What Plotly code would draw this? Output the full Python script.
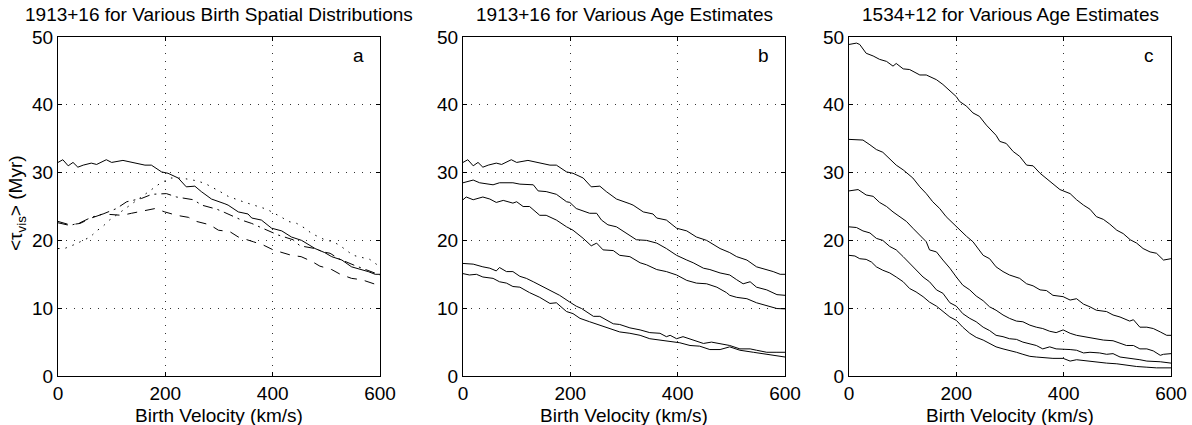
import plotly.graph_objects as go

# ---------------- data ----------------
# Panel a: 1913+16 for various birth spatial distributions
a_solid_x = [0, 9, 19, 28, 37, 47, 62, 72, 90, 100, 121, 143, 162, 174, 193, 205, 224, 239, 255, 267, 286, 311, 317, 336, 354, 361, 379, 398, 417, 435, 454, 479, 497, 510, 529, 547, 566, 578, 591, 600]
a_solid_y = [31.5, 31.9, 31.0, 31.5, 30.8, 31.1, 31.4, 31.2, 31.9, 31.5, 31.8, 31.4, 31.1, 31.1, 30.1, 29.9, 29.2, 27.9, 28.0, 27.2, 26.1, 25.4, 25.2, 24.2, 23.9, 23.3, 23.0, 21.8, 21.4, 20.5, 20.0, 18.8, 18.2, 17.6, 17.1, 16.1, 15.7, 15.4, 15.0, 15.0]

a_dot_x = [0, 12, 31, 60, 72, 84, 96, 134, 159, 190, 210, 230, 258, 274, 302, 317, 345, 358, 376, 389, 417, 429, 445, 460, 473, 497, 513, 526, 550, 566, 581, 593, 600]
a_dot_y = [18.8, 18.8, 19.4, 20.5, 21.4, 22.1, 23.0, 25.2, 26.7, 28.4, 29.2, 29.2, 28.8, 28.4, 27.2, 26.5, 25.7, 25.4, 24.9, 24.6, 23.4, 22.8, 22.5, 21.8, 21.0, 20.1, 19.8, 19.2, 17.8, 17.5, 17.2, 16.5, 16.2]

a_dash_x = [0, 22, 41, 56, 62, 84, 119, 137, 162, 181, 199, 221, 243, 258, 283, 299, 320, 336, 364, 383, 401, 435, 453, 473, 488, 510, 526, 547, 566, 588, 600]
a_dash_y = [22.8, 22.3, 22.5, 23.0, 23.3, 23.9, 23.7, 24.0, 24.4, 24.7, 24.2, 23.7, 23.4, 22.8, 22.3, 21.5, 21.3, 20.5, 19.8, 19.3, 18.6, 17.8, 17.6, 16.9, 16.2, 15.7, 15.0, 14.4, 14.2, 13.6, 13.3]

a_dashdot_x = [0, 22, 41, 62, 84, 109, 128, 156, 175, 202, 221, 252, 268, 296, 311, 342, 361, 389, 410, 438, 451, 479, 494, 507, 523, 553, 600]
a_dashdot_y = [22.6, 22.2, 22.6, 23.4, 23.9, 24.7, 25.7, 26.2, 26.8, 26.9, 26.4, 26.0, 25.2, 24.6, 24.1, 23.0, 22.5, 21.5, 20.8, 20.1, 19.2, 18.8, 18.3, 18.1, 17.3, 16.3, 14.9]

# Panel b: 1913+16 for various age estimates
b1_x = a_solid_x
b1_y = a_solid_y
b2_x = [0, 19, 31, 56, 68, 93, 106, 131, 140, 155, 174, 193, 199, 211, 236, 249, 258, 270, 286, 305, 323, 342, 361, 379, 398, 417, 429, 448, 460, 479, 497, 510, 522, 535, 547, 566, 585, 600]
b2_y = [28.5, 28.9, 28.5, 28.2, 28.5, 28.5, 28.3, 28.2, 27.3, 27.2, 26.8, 25.7, 25.6, 24.7, 24.0, 24.0, 23.0, 22.3, 22.0, 21.0, 20.1, 20.0, 19.6, 18.8, 17.8, 17.1, 16.7, 15.9, 15.7, 15.2, 14.9, 14.2, 13.6, 13.9, 13.1, 12.7, 12.0, 11.9]
b3_x = [0, 6, 19, 37, 50, 62, 75, 93, 100, 112, 124, 143, 155, 174, 193, 205, 224, 239, 249, 261, 280, 292, 311, 330, 342, 361, 379, 398, 417, 435, 454, 473, 491, 497, 510, 529, 547, 566, 585, 600]
b3_y = [26.0, 26.4, 26.0, 26.4, 26.1, 25.6, 25.9, 25.5, 25.7, 25.0, 25.0, 23.7, 23.7, 23.0, 22.0, 21.5, 20.3, 19.2, 19.6, 18.6, 18.5, 17.8, 17.6, 16.7, 16.4, 15.7, 15.4, 14.9, 14.1, 13.7, 13.6, 13.1, 12.3, 11.9, 11.6, 11.4, 10.8, 10.4, 9.95, 9.9]
b4_x = [0, 19, 37, 50, 62, 68, 81, 93, 106, 118, 131, 149, 168, 180, 199, 211, 221, 230, 243, 255, 267, 280, 292, 311, 330, 348, 367, 379, 386, 398, 410, 429, 448, 463, 479, 497, 516, 535, 547, 566, 585, 600]
b4_y = [16.6, 16.5, 16.1, 15.9, 15.5, 16.0, 15.4, 15.4, 14.7, 14.4, 13.9, 13.2, 12.4, 11.9, 10.9, 10.3, 9.95, 9.46, 8.8, 8.8, 8.3, 7.7, 7.6, 7.1, 6.8, 6.4, 6.3, 5.8, 6.0, 5.5, 5.8, 5.3, 4.8, 5.0, 4.8, 4.5, 4.0, 4.0, 3.8, 3.5, 3.5, 3.5]
b5_x = [0, 12, 25, 37, 56, 68, 81, 93, 106, 124, 143, 162, 174, 193, 205, 218, 236, 255, 274, 292, 311, 330, 348, 367, 386, 404, 423, 441, 460, 479, 497, 516, 541, 560, 578, 600]
b5_y = [15.1, 14.9, 15.0, 14.6, 14.4, 13.9, 13.7, 13.2, 13.1, 12.3, 11.6, 10.7, 10.8, 9.5, 9.2, 8.5, 8.0, 7.5, 7.0, 6.5, 6.3, 6.0, 5.5, 5.3, 5.0, 4.9, 4.5, 4.4, 3.9, 3.9, 4.3, 3.8, 3.5, 3.3, 3.05, 2.8]

# Panel c: 1534+12 for various age estimates
c1_x = [0, 14, 20, 32, 45, 57, 70, 82, 88, 101, 113, 132, 144, 163, 175, 188, 200, 206, 219, 231, 243, 256, 274, 281, 293, 306, 318, 331, 343, 356, 374, 393, 412, 424, 437, 449, 461, 474, 486, 499, 511, 524, 536, 548, 561, 573, 586, 600]
c1_y = [48.9, 49.1, 48.9, 47.6, 47.2, 46.7, 46.4, 45.7, 46.1, 45.3, 45.2, 44.4, 44.4, 43.7, 43.0, 42.0, 41.2, 40.5, 39.8, 38.8, 38.3, 37.0, 35.5, 34.6, 34.3, 33.1, 32.4, 31.1, 31.0, 29.9, 28.7, 27.5, 26.9, 26.0, 25.2, 24.6, 23.5, 23.1, 22.4, 21.5, 21.0, 20.1, 19.6, 18.8, 18.3, 18.1, 17.1, 17.3]
c2_x = [0, 26, 39, 51, 63, 76, 88, 101, 119, 132, 144, 156, 169, 181, 194, 206, 219, 231, 250, 262, 274, 287, 299, 318, 331, 343, 356, 368, 380, 399, 412, 424, 437, 449, 461, 480, 492, 505, 523, 530, 542, 555, 567, 580, 592, 600]
c2_y = [34.9, 34.8, 34.1, 33.4, 33.0, 32.0, 31.1, 30.4, 29.2, 27.9, 26.9, 25.7, 24.7, 23.5, 22.5, 21.5, 20.6, 19.8, 17.8, 17.3, 16.1, 15.4, 14.9, 14.4, 13.6, 13.3, 12.7, 12.6, 11.9, 11.7, 11.2, 11.4, 10.6, 10.2, 9.7, 9.5, 9.0, 8.7, 8.1, 8.3, 7.2, 7.2, 7.0, 6.5, 6.0, 6.0]
c3_x = [0, 17, 32, 45, 57, 70, 82, 94, 107, 119, 132, 144, 150, 163, 175, 188, 200, 212, 225, 237, 250, 262, 274, 287, 299, 312, 324, 337, 349, 361, 374, 386, 399, 412, 424, 437, 449, 461, 474, 492, 505, 517, 530, 542, 555, 567, 580, 586, 600]
c3_y = [27.3, 27.5, 26.7, 26.5, 25.6, 25.0, 24.2, 23.5, 22.8, 21.8, 20.8, 19.8, 18.6, 18.3, 17.1, 15.9, 14.6, 13.4, 12.7, 11.8, 11.1, 10.2, 9.7, 9.0, 8.5, 8.1, 8.0, 7.5, 7.2, 7.0, 6.6, 6.4, 6.8, 6.3, 6.0, 5.8, 5.7, 5.5, 5.3, 5.2, 4.8, 4.5, 4.5, 4.0, 4.0, 3.7, 3.05, 3.2, 3.3]
c4_x = [0, 14, 26, 39, 51, 63, 76, 88, 101, 113, 125, 138, 150, 163, 175, 188, 200, 212, 225, 237, 250, 262, 274, 287, 299, 312, 324, 337, 349, 361, 374, 386, 399, 412, 424, 437, 449, 467, 480, 492, 505, 517, 530, 542, 555, 567, 580, 600]
c4_y = [22.0, 21.9, 21.4, 21.1, 20.3, 20.0, 19.1, 18.6, 17.6, 16.6, 15.6, 14.6, 13.9, 12.7, 12.2, 10.8, 10.3, 9.2, 8.5, 8.0, 7.2, 6.7, 6.0, 5.8, 5.5, 5.4, 5.0, 4.7, 4.5, 4.0, 4.3, 4.0, 4.0, 3.9, 3.8, 3.4, 3.5, 3.4, 3.2, 3.3, 2.8, 2.7, 2.6, 2.4, 2.2, 2.2, 2.1, 1.9]
c5_x = [0, 11, 20, 32, 42, 51, 63, 76, 88, 101, 113, 125, 138, 150, 163, 175, 188, 200, 212, 225, 237, 250, 262, 274, 287, 299, 312, 324, 337, 349, 361, 380, 399, 412, 424, 443, 461, 480, 499, 517, 536, 555, 573, 600]
c5_y = [17.8, 17.7, 17.3, 17.2, 16.8, 16.1, 15.6, 15.2, 14.6, 13.9, 12.9, 12.4, 11.7, 10.9, 10.3, 9.5, 8.7, 8.2, 7.2, 6.3, 5.7, 5.3, 4.8, 4.3, 4.0, 3.8, 3.5, 3.2, 2.9, 2.8, 2.7, 2.6, 2.6, 2.2, 2.4, 2.2, 2.1, 1.9, 1.8, 1.6, 1.4, 1.3, 1.2, 1.2]

titles = ["1913+16 for Various Birth Spatial Distributions",
          "1913+16 for Various Age Estimates",
          "1534+12 for Various Age Estimates"]
panel_letters = ["a", "b", "c"]
x_ticks = [0, 200, 400, 600]
y_ticks = [0, 10, 20, 30, 40, 50]
x_label = "Birth Velocity (km/s)"
y_label = "&lt;τ<sub>vis</sub>&gt; (Myr)"

# ---------------- figure ----------------
W, H = 1192, 425
FONT = "Liberation Sans, Arial, Helvetica, sans-serif"
FS = 19

def px(xp):   # page x pixel -> paper fraction
    return xp / W

def py(yp):   # page y pixel (from top) -> paper fraction
    return (H - yp) / H

fig = go.Figure()

def add(x, y, axis, dash="solid"):
    fig.add_trace(go.Scatter(x=x, y=y, mode="lines", xaxis="x" + axis, yaxis="y" + axis,
                             line=dict(color="black", width=1, dash=dash),
                             showlegend=False, hoverinfo="skip"))

add(a_solid_x, a_solid_y, "")
add(a_dot_x, a_dot_y, "", "1.5px,6px")
add(a_dash_x, a_dash_y, "", "10px,8px")
add(a_dashdot_x, a_dashdot_y, "", "10px,5px,2px,5px")

for xs, ys in [(b1_x, b1_y), (b2_x, b2_y), (b3_x, b3_y), (b4_x, b4_y), (b5_x, b5_y)]:
    add(xs, ys, "2")
for xs, ys in [(c1_x, c1_y), (c2_x, c2_y), (c3_x, c3_y), (c4_x, c4_y), (c5_x, c5_y)]:
    add(xs, ys, "3")

x_px = [(58, 380), (463, 785), (849, 1171)]
y_dom = [py(376), py(37)]

common = dict(showline=True, linecolor="black", linewidth=1, mirror="ticks",
              ticks="inside", ticklen=4, tickcolor="black", tickwidth=1,
              showgrid=True, gridcolor="#333333", griddash="1px,7px", gridwidth=1,
              zeroline=False, automargin=False,
              tickfont=dict(family=FONT, size=FS, color="black"))

layout = dict(width=W, height=H, autosize=False, template="none",
              margin=dict(l=0, r=0, t=0, b=0, pad=0),
              paper_bgcolor="white", plot_bgcolor="white",
              font=dict(family=FONT, size=FS, color="black"))

annotations = []
for i, (x0, x1) in enumerate(x_px):
    sfx = "" if i == 0 else str(i + 1)
    layout["xaxis" + sfx] = dict(domain=[px(x0), px(x1)], range=[0, 600], tickvals=x_ticks,
                                 anchor="y" + sfx, **common)
    layout["yaxis" + sfx] = dict(domain=list(y_dom), range=[0, 50], tickvals=y_ticks,
                                 anchor="x" + sfx, **common)
    cx = px((x0 + x1) / 2)
    annotations.append(dict(text=titles[i], x=cx, y=py(15), xref="paper", yref="paper",
                            xanchor="center", yanchor="middle", showarrow=False,
                            font=dict(family=FONT, size=FS, color="black")))
    annotations.append(dict(text=x_label, x=cx, y=py(403), xref="paper", yref="paper",
                            xanchor="center", yanchor="top", showarrow=False,
                            font=dict(family=FONT, size=FS, color="black")))
    annotations.append(dict(text=panel_letters[i], x=px(x1 - 22), y=py(56),
                            xref="paper", yref="paper", xanchor="center", yanchor="middle",
                            showarrow=False, font=dict(family=FONT, size=FS, color="black")))

annotations.append(dict(text=y_label, x=px(17), y=py(203), xref="paper", yref="paper",
                        xanchor="center", yanchor="middle", textangle=-90, showarrow=False,
                        font=dict(family=FONT, size=FS, color="black")))
layout["annotations"] = annotations
fig.update_layout(**layout)

# remove the page's default body margin so the 1192x425 figure fills the window exactly
fig.write_html("out.html",
               config={"displayModeBar": False, "staticPlot": False},
               post_script="document.body.style.margin='0';document.body.style.overflow='hidden';")
